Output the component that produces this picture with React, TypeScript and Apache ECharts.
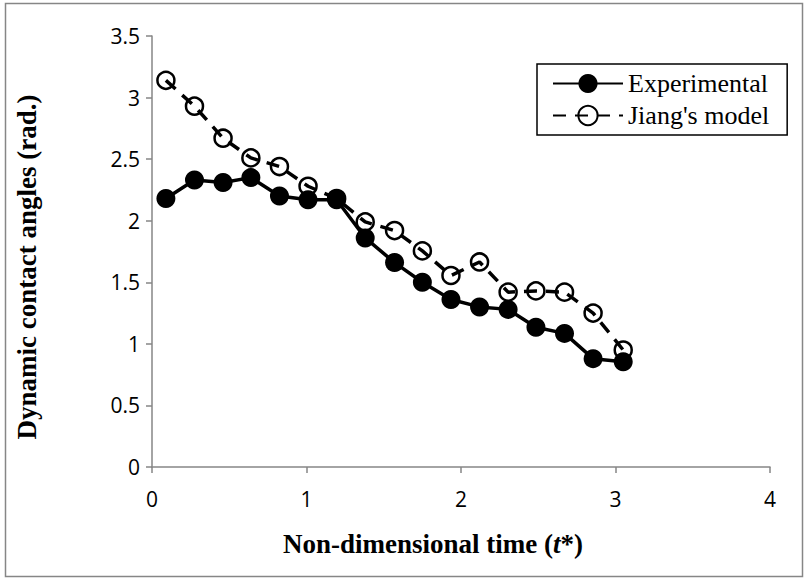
import React, { useEffect, useRef } from "react";
import * as echarts from "echarts";

const timeValues = [0.09, 0.275, 0.46, 0.64, 0.825, 1.01, 1.195, 1.38, 1.57, 1.75, 1.935, 2.12, 2.305, 2.485, 2.67, 2.855, 3.05];
const experimental = [2.18, 2.33, 2.31, 2.35, 2.2, 2.17, 2.17, 1.86, 1.66, 1.5, 1.36, 1.3, 1.28, 1.135, 1.085, 0.88, 0.855];
const jiangModel = [3.14, 2.93, 2.67, 2.51, 2.44, 2.28, 2.18, 1.99, 1.92, 1.755, 1.555, 1.665, 1.42, 1.43, 1.42, 1.25, 0.95];
const seriesNames = ["Experimental", "Jiang's model"];
const xTitleParts = ["Non-dimensional time (", "t", "*)"];
const yTitle = "Dynamic contact angles (rad.)";

export default function App() {
  const ref = useRef<HTMLDivElement>(null);
  useEffect(() => {
    if (!ref.current) return;
    const chart = echarts.init(ref.current, undefined, { renderer: "svg" });
    const gray = "#868686";
    const serif = "'Liberation Serif', 'Times New Roman', serif";
    const labelFont = { fontFamily: "'Open Sans', sans-serif", fontSize: 21, color: "#000" };
    chart.setOption({
      animation: false,
      backgroundColor: "#fff",
      grid: { left: 152, right: 37, top: 36, bottom: 113 },
      graphic: [
        {
          type: "rect",
          shape: { x: 5.5, y: 3.5, width: 797, height: 573 },
          style: { fill: "none", stroke: gray, lineWidth: 1.5 },
          silent: true,
        },
        {
          type: "text",
          x: 433,
          y: 544,
          silent: true,
          style: {
            text: `{b|${xTitleParts[0]}}{i|${xTitleParts[1]}}{b|${xTitleParts[2]}}`,
            align: "center",
            verticalAlign: "middle",
            rich: {
              b: { fontFamily: serif, fontSize: 27, fontWeight: "bold", fill: "#000" },
              i: { fontFamily: serif, fontSize: 27, fontWeight: "bold", fontStyle: "italic", fill: "#000" },
            },
          },
        },
        {
          type: "text",
          x: 27,
          y: 267,
          rotation: Math.PI / 2,
          silent: true,
          style: {
            text: yTitle,
            align: "center",
            verticalAlign: "middle",
            fontFamily: serif,
            fontSize: 27,
            fontWeight: "bold",
            fill: "#000",
          },
        },
      ],
      legend: {
        data: seriesNames,
        orient: "vertical",
        left: 537,
        top: 64,
        padding: [3.5, 18, 3.5, 15],
        itemGap: 0,
        itemWidth: 70,
        itemHeight: 24,
        borderColor: "#000",
        borderWidth: 1.5,
        backgroundColor: "#fff",
        textStyle: { fontFamily: serif, fontSize: 26, color: "#000", lineHeight: 32 },
      },
      xAxis: {
        type: "value",
        min: 0,
        max: 4,
        interval: 1,
        axisLine: { show: true, lineStyle: { color: gray, width: 1.5 } },
        axisTick: { show: true, length: 6, lineStyle: { color: gray, width: 1.5 } },
        axisLabel: { ...labelFont, margin: 21 },
        splitLine: { show: false },
      },
      yAxis: {
        type: "value",
        min: 0,
        max: 3.5,
        interval: 0.5,
        axisLine: { show: true, lineStyle: { color: gray, width: 1.5 } },
        axisTick: { show: true, length: 6, lineStyle: { color: gray, width: 1.5 } },
        axisLabel: { ...labelFont, margin: 12 },
        splitLine: { show: false },
      },
      series: [
        {
          name: seriesNames[1],
          type: "line",
          z: 2,
          data: timeValues.map((t, i) => [t, jiangModel[i]]),
          symbol: "circle",
          symbolSize: 17,
          lineStyle: { color: "#000", width: 3.5, type: [13, 9] },
          itemStyle: { color: "rgba(0,0,0,0)", borderColor: "#000", borderWidth: 2.5 },
        },
        {
          name: seriesNames[0],
          type: "line",
          z: 3,
          data: timeValues.map((t, i) => [t, experimental[i]]),
          symbol: "circle",
          symbolSize: 19,
          lineStyle: { color: "#000", width: 3.5 },
          itemStyle: { color: "#000", borderColor: "#000", borderWidth: 0 },
        },
      ],
    });
    return () => chart.dispose();
  }, []);
  return <div ref={ref} style={{ position: "absolute", left: 0, top: 0, width: 807, height: 580 }} />;
}
